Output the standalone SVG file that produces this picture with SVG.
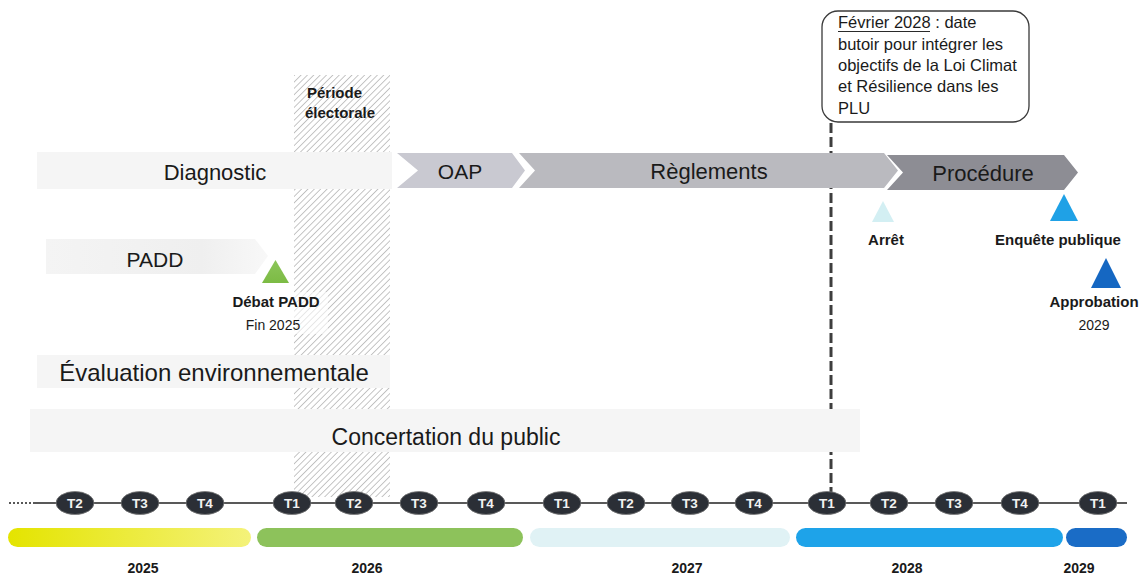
<svg xmlns="http://www.w3.org/2000/svg" width="1147" height="575" viewBox="0 0 1147 575">
<defs>
<style>
.lbl{font-family:"Liberation Sans",Arial,sans-serif;fill:#1a1a1a}
.bold{font-family:"Liberation Sans",Arial,sans-serif;font-weight:bold;fill:#1a1a1a}
.reg{font-family:"Liberation Sans",Arial,sans-serif;fill:#1a1a1a}
.tq{font-family:"Liberation Sans",Arial,sans-serif;font-weight:bold;font-size:13.5px;fill:#f2f2f2;text-anchor:middle}
.circ{fill:#2b2f36;stroke:#7a7a7a;stroke-width:0.8}
.yr{font-family:"Liberation Sans",Arial,sans-serif;font-weight:bold;font-size:14px;fill:#1a1a1a;text-anchor:middle}
.faint{fill:#f5f5f5}
</style>
<pattern id="hatch" width="4.5" height="10" patternUnits="userSpaceOnUse" patternTransform="rotate(45)">
<line x1="0" y1="0" x2="0" y2="10" stroke="#777777" stroke-width="0.9"/>
</pattern>
<linearGradient id="gY" x1="0" x2="1" y1="0" y2="0"><stop offset="0" stop-color="#e4e400"/><stop offset="1" stop-color="#f4f27a"/></linearGradient>
<linearGradient id="gPadd" x1="0" x2="1" y1="0" y2="0"><stop offset="0" stop-color="#f4f4f4"/><stop offset="0.7" stop-color="#efefef"/><stop offset="1" stop-color="#f8f8f8"/></linearGradient>
<linearGradient id="gGreen" x1="0" x2="0" y1="0" y2="1"><stop offset="0" stop-color="#8cc55a"/><stop offset="1" stop-color="#7cbb44"/></linearGradient>
</defs>
<rect width="1147" height="575" fill="#ffffff"/>

<g id="periode-electorale">
<rect x="294" y="75" width="96" height="422" fill="url(#hatch)"/>
<text class="bold" x="307" y="98" font-size="15">Période</text>
<text class="bold" x="305" y="118" font-size="15">électorale</text>
</g>

<g id="connectors">
<line x1="831" y1="123" x2="831" y2="492" stroke="#3e3e3e" stroke-width="3" stroke-dasharray="10 4"/>
</g>

<g id="diagnostic">
<rect class="faint" x="37" y="152" width="355" height="37"/>
<text class="lbl" x="215" y="180" font-size="22" text-anchor="middle">Diagnostic</text>
</g>

<g id="oap">
<polygon points="397,153 512,153 525,170.5 512,188 397,188 418,170.5" fill="#c9c9d1"/>
<text class="lbl" x="460" y="179" font-size="21" text-anchor="middle">OAP</text>
</g>

<g id="reglements">
<polygon points="519,153 884,153 898,170.5 884,188 519,188 535,170.5" fill="#bababf"/>
<text class="lbl" x="709" y="179" font-size="22" text-anchor="middle">Règlements</text>
</g>

<g id="procedure">
<polygon points="887,155 1064,155 1078,172.5 1064,190 887,190 903,172.5" fill="#8d8d94"/>
<text class="lbl" x="983" y="181" font-size="22" text-anchor="middle">Procédure</text>
</g>

<g id="padd">
<polygon points="46,239 255,239 268,256 255,274 46,274" fill="url(#gPadd)"/>
<text class="lbl" x="155" y="267" font-size="21" text-anchor="middle">PADD</text>
</g>

<g id="debat-padd">
<rect x="294" y="292" width="34" height="42" fill="#ffffff" opacity="0.6"/>
<polygon points="262,283 275.5,260 289,283" fill="url(#gGreen)"/>
<text class="bold" x="276" y="307" font-size="15" text-anchor="middle">Débat PADD</text>
<text class="reg" x="273" y="330" font-size="14" text-anchor="middle">Fin 2025</text>
</g>

<g id="evaluation">
<rect class="faint" x="37" y="355" width="353" height="33"/>
<text class="lbl" x="214" y="381" font-size="24" text-anchor="middle">Évaluation environnementale</text>
</g>

<g id="concertation">
<rect class="faint" x="30" y="409" width="830" height="43"/>
<text class="lbl" x="446" y="445" font-size="23" text-anchor="middle">Concertation du public</text>
</g>

<g id="callout">
<rect x="822" y="11" width="207" height="111" rx="16" ry="16" fill="#ffffff" stroke="#3a3a3a" stroke-width="1.3"/>
<text class="reg" font-size="16.5" fill="#2a2a2a">
<tspan x="838" y="28">Février 2028 : date</tspan>
<tspan x="838" y="50">butoir pour intégrer les</tspan>
<tspan x="838" y="71">objectifs de la Loi Climat</tspan>
<tspan x="838" y="92">et Résilience dans les</tspan>
<tspan x="838" y="114">PLU</tspan>
</text>
<line x1="838" y1="31.5" x2="930" y2="31.5" stroke="#2a2a2a" stroke-width="1"/>
</g>

<g id="arret">
<polygon points="872,222 883,201 894,222" fill="#d3eff3"/>
<text class="bold" x="886" y="245" font-size="15" text-anchor="middle">Arrêt</text>
</g>

<g id="enquete-publique">
<polygon points="1050,221 1064,194 1078,221" fill="#1fa1e6"/>
<text class="bold" x="1058" y="245" font-size="15" text-anchor="middle">Enquête publique</text>
</g>

<g id="approbation">
<polygon points="1091,288 1106,258 1121,288" fill="#1567c2"/>
<text class="bold" x="1094" y="307" font-size="15" text-anchor="middle">Approbation</text>
<text class="reg" x="1094" y="330" font-size="14" text-anchor="middle">2029</text>
</g>

<g id="timeline">
<line x1="9" y1="503" x2="34" y2="503" stroke="#222" stroke-width="1.5" stroke-dasharray="2 2"/>
<line x1="34" y1="503" x2="1127" y2="503" stroke="#222" stroke-width="1.5"/>
<ellipse class="circ" cx="75" cy="503" rx="19" ry="11.5"/><text class="tq" x="75" y="508">T2</text>
<ellipse class="circ" cx="140" cy="503" rx="19" ry="11.5"/><text class="tq" x="140" y="508">T3</text>
<ellipse class="circ" cx="205" cy="503" rx="19" ry="11.5"/><text class="tq" x="205" y="508">T4</text>
<ellipse class="circ" cx="292" cy="503" rx="19" ry="11.5"/><text class="tq" x="292" y="508">T1</text>
<ellipse class="circ" cx="354" cy="503" rx="19" ry="11.5"/><text class="tq" x="354" y="508">T2</text>
<ellipse class="circ" cx="419" cy="503" rx="19" ry="11.5"/><text class="tq" x="419" y="508">T3</text>
<ellipse class="circ" cx="486" cy="503" rx="19" ry="11.5"/><text class="tq" x="486" y="508">T4</text>
<ellipse class="circ" cx="562" cy="503" rx="19" ry="11.5"/><text class="tq" x="562" y="508">T1</text>
<ellipse class="circ" cx="626" cy="503" rx="19" ry="11.5"/><text class="tq" x="626" y="508">T2</text>
<ellipse class="circ" cx="690" cy="503" rx="19" ry="11.5"/><text class="tq" x="690" y="508">T3</text>
<ellipse class="circ" cx="754" cy="503" rx="19" ry="11.5"/><text class="tq" x="754" y="508">T4</text>
<ellipse class="circ" cx="827" cy="503" rx="19" ry="11.5"/><text class="tq" x="827" y="508">T1</text>
<ellipse class="circ" cx="889" cy="503" rx="19" ry="11.5"/><text class="tq" x="889" y="508">T2</text>
<ellipse class="circ" cx="954" cy="503" rx="19" ry="11.5"/><text class="tq" x="954" y="508">T3</text>
<ellipse class="circ" cx="1020" cy="503" rx="19" ry="11.5"/><text class="tq" x="1020" y="508">T4</text>
<ellipse class="circ" cx="1098" cy="503" rx="19" ry="11.5"/><text class="tq" x="1098" y="508">T1</text>
</g>

<g id="years">
<rect x="8" y="528" width="243" height="19" rx="9.5" fill="url(#gY)"/>
<rect x="257" y="528" width="266" height="19" rx="9.5" fill="#8dc25b"/>
<rect x="530" y="528" width="260" height="19" rx="9.5" fill="#e0f2f5"/>
<rect x="796" y="528" width="267" height="19" rx="9.5" fill="#1ea3e9"/>
<rect x="1066" y="528" width="61" height="19" rx="9.5" fill="#1a6cc6"/>
<text class="yr" x="143" y="573">2025</text>
<text class="yr" x="367" y="573">2026</text>
<text class="yr" x="687" y="573">2027</text>
<text class="yr" x="907" y="573">2028</text>
<text class="yr" x="1079" y="573">2029</text>
</g>
</svg>
